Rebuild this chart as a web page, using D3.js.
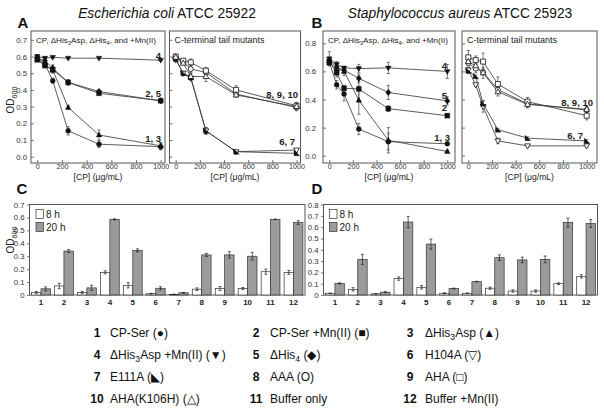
<!DOCTYPE html>
<html><head><meta charset="utf-8">
<script src="https://cdn.jsdelivr.net/npm/d3@7"></script>
<style>body{margin:0;background:#fff}svg{display:block}text{font-family:"Liberation Sans",Arial,sans-serif}</style>
</head><body><svg id="c" width="604" height="411"></svg>
<script>
// ---------- DATA ----------
const conc = [0, 62.5, 125, 250, 500, 1000];
const xTickVals = [0, 200, 400, 600, 800, 1000];
const yTicksA = [0, 0.1, 0.2, 0.3, 0.4, 0.5, 0.6, 0.7];
const yTicksB = [0, 0.2, 0.4, 0.6, 0.8];
const yTicksC = [0, 0.1, 0.2, 0.3, 0.4, 0.5, 0.6, 0.7];
const yTicksD = [0, 0.1, 0.2, 0.3, 0.4, 0.5, 0.6, 0.7, 0.8];

// E. coli, left panel (series 1-5)
const ecS1 = [0.595, 0.555, 0.455, 0.155, 0.075, 0.06],  ecS1e = [0.015, 0.01, 0.015, 0.025, 0.02, 0.02];
const ecS2 = [0.58, 0.545, 0.52, 0.445, 0.38, 0.335],    ecS2e = [0.01, 0.01, 0.01, 0.015, 0.01, 0.01];
const ecS3 = [0.585, 0.55, 0.52, 0.295, 0.13, 0.065],    ecS3e = [0.01, 0.01, 0.02, 0.01, 0.03, 0.02];
const ecS4 = [0.6, 0.59, 0.595, 0.59, 0.59, 0.578],      ecS4e = [0.01, 0.01, 0.005, 0.005, 0.005, 0.005];
const ecS5 = [0.59, 0.575, 0.53, 0.445, 0.39, 0.335],    ecS5e = [0.02, 0.02, 0.02, 0.01, 0.01, 0.01];
// E. coli, right panel (series 6-10)
const ecS6 = [0.58, 0.50, 0.47, 0.155, 0.03, 0.04],      ecS6e = [0.01, 0.01, 0.01, 0.02, 0.005, 0.005];
const ecS7 = [0.585, 0.50, 0.475, 0.155, 0.03, 0.02],    ecS7e = [0.01, 0.01, 0.01, 0.02, 0.005, 0.005];
const ecS8 = [0.6, 0.565, 0.525, 0.505, 0.375, 0.295],   ecS8e = [0.01, 0.01, 0.02, 0.02, 0.01, 0.02];
const ecS9 = [0.6, 0.575, 0.565, 0.515, 0.4, 0.305],     ecS9e = [0.01, 0.01, 0.02, 0.02, 0.025, 0.02];
const ecS10 = [0.595, 0.56, 0.48, 0.48, 0.37, 0.30],     ecS10e = [0.01, 0.01, 0.02, 0.03, 0.015, 0.02];

// S. aureus, left panel
const saS1 = [0.665, 0.505, 0.44, 0.19, 0.10, 0.085],    saS1e = [0.02, 0.03, 0.05, 0.04, 0.06, 0.01];
const saS2 = [0.67, 0.59, 0.48, 0.475, 0.335, 0.285],    saS2e = [0.02, 0.03, 0.02, 0.09, 0.02, 0.01];
const saS3 = [0.66, 0.62, 0.60, 0.395, 0.11, 0.03],      saS3e = [0.02, 0.02, 0.03, 0.1, 0.09, 0.01];
const saS4 = [0.69, 0.65, 0.625, 0.62, 0.625, 0.60],     saS4e = [0.05, 0.02, 0.01, 0.03, 0.04, 0.05];
const saS5 = [0.68, 0.63, 0.61, 0.55, 0.45, 0.39],       saS5e = [0.02, 0.03, 0.02, 0.03, 0.05, 0.03];
// S. aureus, right panel
const saS6 = [0.61, 0.505, 0.35, 0.105, 0.07, 0.07],     saS6e = [0.02, 0.01, 0.04, 0.02, 0.01, 0.01];
const saS7 = [0.605, 0.565, 0.37, 0.185, 0.125, 0.105],  saS7e = [0.02, 0.01, 0.02, 0.01, 0.01, 0.01];
const saS8 = [0.66, 0.62, 0.595, 0.47, 0.37, 0.325],     saS8e = [0.02, 0.03, 0.02, 0.02, 0.03, 0.02];
const saS9 = [0.70, 0.68, 0.67, 0.51, 0.385, 0.285],     saS9e = [0.05, 0.03, 0.06, 0.05, 0.03, 0.03];
const saS10 = [0.67, 0.64, 0.59, 0.455, 0.365, 0.33],    saS10e = [0.02, 0.02, 0.04, 0.03, 0.02, 0.02];

// Bar panels: groups 1-12
const groups = ["1","2","3","4","5","6","7","8","9","10","11","12"];
const ec8h   = [0.02, 0.07, 0.02, 0.175, 0.075, 0.01, 0.005, 0.045, 0.05, 0.05, 0.18, 0.175];
const ec8hE  = [0.008, 0.02, 0.008, 0.012, 0.02, 0.003, 0.002, 0.01, 0.015, 0.008, 0.02, 0.015];
const ec20h  = [0.048, 0.34, 0.055, 0.585, 0.345, 0.052, 0.017, 0.31, 0.31, 0.30, 0.585, 0.56];
const ec20hE = [0.015, 0.012, 0.02, 0.005, 0.012, 0.012, 0.003, 0.012, 0.025, 0.03, 0.003, 0.015];
const sa8h   = [0.015, 0.05, 0.01, 0.145, 0.068, 0.015, 0.015, 0.06, 0.035, 0.035, 0.10, 0.165];
const sa8hE  = [0.003, 0.015, 0.003, 0.015, 0.015, 0.005, 0.003, 0.01, 0.01, 0.01, 0.008, 0.015];
const sa20h  = [0.103, 0.315, 0.025, 0.645, 0.45, 0.057, 0.118, 0.33, 0.31, 0.315, 0.64, 0.632];
const sa20hE = [0.005, 0.045, 0.005, 0.05, 0.045, 0.004, 0.003, 0.025, 0.025, 0.03, 0.04, 0.035];

// Legend
const legendNums = ["1","2","3","4","5","6","7","8","9","10","11","12"];
const legendLabels = ["CP-Ser (●)", "CP-Ser +Mn(II) (■)", "ΔHis_3Asp (▲)",
  "ΔHis_3Asp +Mn(II) (▼)", "ΔHis_4 (◆)", "H104A (▽)",
  "E111A (◣)", "AAA (O)", "AHA (□)",
  "AHA(K106H) (△)", "Buffer only", "Buffer +Mn(II)"];
const shapes = {1:"circle",2:"square",3:"up",4:"down",5:"diamond",6:"downOpen",7:"corner",8:"circleOpen",9:"squareOpen",10:"upOpen"};

// ---------- DRAWING ----------
const svg = d3.select("#c");
const FR = "#555";

function addRich(textSel, str, fs){
  const parts = str.split(/(_[0-9]+|\*[^*]+\*)/).filter(s => s.length);
  let shifted = false;
  parts.forEach(p => {
    const t = textSel.append("tspan");
    if (p[0] === "_") { t.text(p.slice(1)).attr("font-size", fs*0.72).attr("dy", fs*0.3); shifted = true; }
    else {
      if (p[0] === "*") { t.attr("font-style", "italic"); p = p.slice(1, -1); }
      t.text(p);
      if (shifted) { t.attr("dy", -fs*0.3); shifted = false; }
    }
  });
}

function markerPath(shape, r){
  const s = shape.replace("Open", "");
  switch (s) {
    case "circle": return d3.symbol(d3.symbolCircle, Math.PI*r*r)();
    case "square": return `M${-r},${-r}H${r}V${r}H${-r}Z`;
    case "up": return `M0,${-r*1.25}L${r*1.15},${r*0.8}L${-r*1.15},${r*0.8}Z`;
    case "down": return `M0,${r*1.25}L${r*1.15},${-r*0.8}L${-r*1.15},${-r*0.8}Z`;
    case "diamond": return `M0,${-r*1.35}L${r*1.05},0L0,${r*1.35}L${-r*1.05},0Z`;
    case "corner": return `M${-r},${-r*1.2}L${-r},${r}L${r*1.3},${r}Z`;
  }
}

function styleAxis(g, fs){
  g.select(".domain").remove();
  g.selectAll(".tick line").attr("stroke", FR).attr("stroke-width", 0.8);
  g.selectAll(".tick text").attr("font-size", fs).attr("fill", "#333")
    .attr("font-family", '"Liberation Sans",Arial,sans-serif');
}

function linePanel(o){
  const g = svg.append("g");
  const x = d3.scaleLinear().domain([0, 1000]).range(o.xr);
  const y = d3.scaleLinear().domain(o.yd).range(o.yr);
  g.append("rect").attr("x", o.fx[0]).attr("y", o.fy[0])
    .attr("width", o.fx[1]-o.fx[0]).attr("height", o.fy[1]-o.fy[0])
    .attr("fill", "none").attr("stroke", FR).attr("stroke-width", 1);
  const xa = g.append("g").attr("transform", `translate(0,${o.fy[1]})`)
    .call(d3.axisBottom(x).tickValues(xTickVals).tickFormat(d3.format("d")).tickSizeInner(-3).tickSizeOuter(0).tickPadding(1));
  styleAxis(xa, 7.2);
  const ya = g.append("g").attr("transform", `translate(${o.fx[0]},0)`)
    .call(d3.axisLeft(y).tickValues(o.yt).tickFormat(o.ylab ? d3.format(".1f") : () => "").tickSizeInner(-3).tickSizeOuter(0).tickPadding(o.ypad));
  styleAxis(ya, 7.8);
  // x label
  g.append("text").attr("x", (o.fx[0]+o.fx[1])/2).attr("y", 180).attr("text-anchor", "middle")
    .attr("font-size", 8.6).attr("fill", "#222").text("[CP] (μg/mL)");
  // inner title
  const tt = g.append("text").attr("x", o.fx[0]+5).attr("y", 42.5).attr("font-size", o.tfs).attr("fill", "#222");
  addRich(tt, o.title, o.tfs);
  const line = d3.line().x((d, i) => x(conc[i])).y(d => y(d));
  o.series.forEach(s => {
    g.append("path").attr("d", line(s.v)).attr("fill", "none").attr("stroke", "#333").attr("stroke-width", 0.8);
  });
  o.series.forEach(s => {
    s.v.forEach((v, i) => {
      const cx = x(conc[i]);
      g.append("line").attr("x1", cx).attr("x2", cx).attr("y1", y(v - s.e[i])).attr("y2", y(v + s.e[i])).attr("stroke", "#444").attr("stroke-width", 0.7);
      [v - s.e[i], v + s.e[i]].forEach(w => g.append("line").attr("x1", cx-1.6).attr("x2", cx+1.6).attr("y1", y(w)).attr("y2", y(w)).attr("stroke", "#444").attr("stroke-width", 0.7));
    });
  });
  o.series.forEach(s => {
    const sh = shapes[s.id], open = sh.endsWith("Open");
    s.v.forEach((v, i) => {
      g.append("path").attr("d", markerPath(sh, 2.5))
        .attr("transform", `translate(${x(conc[i])},${y(v)})`)
        .attr("fill", open ? "#fff" : "#111").attr("stroke", "#111").attr("stroke-width", open ? 0.8 : 0.3);
    });
  });
  o.ann.forEach(a => g.append("text").attr("x", a[1]).attr("y", a[2]).attr("text-anchor", "end")
    .attr("font-size", 9.5).attr("font-weight", "bold").attr("fill", "#222").text(a[0]));
}

// Panel A
const yA = {yd: [0, 0.7], yr: [156.7, 39.8], yt: yTicksA, fy: [31, 163]};
linePanel(Object.assign({}, yA, {fx: [31, 165], xr: [37.3, 160.7], ylab: true, ypad: 4, tfs: 8.1,
  title: "CP, ΔHis_3Asp, ΔHis_4, and +Mn(II)",
  series: [{id:1,v:ecS1,e:ecS1e},{id:2,v:ecS2,e:ecS2e},{id:3,v:ecS3,e:ecS3e},{id:4,v:ecS4,e:ecS4e},{id:5,v:ecS5,e:ecS5e}],
  ann: [["4", 161, 58.5], ["2, 5", 161, 97], ["1, 3", 161, 141.5]]}));
linePanel(Object.assign({}, yA, {fx: [169.5, 300.5], xr: [175.7, 296.5], ylab: false, ypad: 4, tfs: 9,
  title: "C-terminal tail mutants",
  series: [{id:6,v:ecS6,e:ecS6e},{id:7,v:ecS7,e:ecS7e},{id:8,v:ecS8,e:ecS8e},{id:9,v:ecS9,e:ecS9e},{id:10,v:ecS10,e:ecS10e}],
  ann: [["8, 9, 10", 298, 97.5], ["6, 7", 295, 144.5]]}));
// Panel B
const yB = {yd: [0, 0.8], yr: [155.7, 43.3], yt: yTicksB, fy: [31, 163]};
linePanel(Object.assign({}, yB, {fx: [323, 455], xr: [329.3, 447.3], ylab: true, ypad: 7, tfs: 8.1,
  title: "CP, ΔHis_3Asp, ΔHis_4, and +Mn(II)",
  series: [{id:1,v:saS1,e:saS1e},{id:2,v:saS2,e:saS2e},{id:3,v:saS3,e:saS3e},{id:4,v:saS4,e:saS4e},{id:5,v:saS5,e:saS5e}],
  ann: [["4", 447, 68.5], ["5", 447, 98.5], ["2", 447, 110.5], ["1, 3", 450, 140.5]]}));
linePanel(Object.assign({}, yB, {fx: [462, 597], xr: [468.3, 586.7], ylab: false, ypad: 4, tfs: 9,
  title: "C-terminal tail mutants",
  series: [{id:6,v:saS6,e:saS6e},{id:7,v:saS7,e:saS7e},{id:8,v:saS8,e:saS8e},{id:9,v:saS9,e:saS9e},{id:10,v:saS10,e:saS10e}],
  ann: [["8, 9, 10", 593, 105.5], ["6, 7", 583, 138.5]]}));

// Bar panels
function barPanel(o){
  const g = svg.append("g");
  const x = d3.scaleBand().domain(groups).range(o.fx).paddingInner(0);
  const y = d3.scaleLinear().domain(o.yd).range([295, 204.5]);
  const bw = 9.4;
  g.append("rect").attr("x", o.fx[0]).attr("y", 204.5).attr("width", o.fx[1]-o.fx[0]).attr("height", 295-204.5)
    .attr("fill", "none").attr("stroke", FR).attr("stroke-width", 1);
  const series = [{v: o.a, e: o.ae, fill: "#fff", off: -bw}, {v: o.b, e: o.be, fill: "#9b9b9b", off: 0}];
  series.forEach(s => {
    groups.forEach((gname, i) => {
      const c = x(gname) + x.bandwidth()/2;
      g.append("rect").attr("x", c + s.off).attr("y", y(s.v[i])).attr("width", bw).attr("height", y(0) - y(s.v[i]))
        .attr("fill", s.fill).attr("stroke", "#333").attr("stroke-width", 0.7);
      const cx = c + s.off + bw/2;
      g.append("line").attr("x1", cx).attr("x2", cx).attr("y1", y(s.v[i]-s.e[i])).attr("y2", y(s.v[i]+s.e[i])).attr("stroke", "#222").attr("stroke-width", 0.7);
      [s.v[i]-s.e[i], s.v[i]+s.e[i]].forEach(w => g.append("line").attr("x1", cx-1.5).attr("x2", cx+1.5).attr("y1", y(w)).attr("y2", y(w)).attr("stroke", "#222").attr("stroke-width", 0.7));
    });
  });
  const xa = g.append("g").attr("transform", "translate(0,295)")
    .call(d3.axisBottom(x).tickSize(0).tickPadding(4.5));
  styleAxis(xa, 8);
  xa.selectAll(".tick text").attr("font-weight", "bold").attr("fill", "#222");
  const ya = g.append("g").attr("transform", `translate(${o.fx[0]},0)`)
    .call(d3.axisLeft(y).tickValues(o.yt).tickFormat(d => d === 0 ? "0" : d3.format(".1f")(d)).tickSizeInner(2.5).tickSizeOuter(0).tickPadding(2.5));
  styleAxis(ya, 7.8);
  // legend
  [["8 h", "#fff", 209.5], ["20 h", "#9b9b9b", 222.5]].forEach(l => {
    g.append("rect").attr("x", o.lx).attr("y", l[2]).attr("width", 7.5).attr("height", 9)
      .attr("fill", l[1]).attr("stroke", "#333").attr("stroke-width", 0.7);
    g.append("text").attr("x", o.lx + 10).attr("y", l[2] + 8.3).attr("font-size", 10).attr("fill", "#222").text(l[0]);
  });
}
barPanel({fx: [29.5, 305], yd: [0, 0.7], yt: yTicksC, a: ec8h, ae: ec8hE, b: ec20h, be: ec20hE, lx: 36});
barPanel({fx: [323.5, 597.5], yd: [0, 0.8], yt: yTicksD, a: sa8h, ae: sa8hE, b: sa20h, be: sa20hE, lx: 329.5});

// Y labels (OD600)
[[14, 100], [14, 240]].forEach(p => {
  const t = svg.append("text").attr("transform", `translate(${p[0]},${p[1]}) rotate(-90)`)
    .attr("text-anchor", "middle").attr("font-size", 10).attr("fill", "#222");
  addRich(t, "OD_600", 10);
});

// Panel letters
[["A", 17.5, 27.5], ["B", 311.5, 27.5], ["C", 16.5, 193.5], ["D", 311.5, 193.5]].forEach(l =>
  svg.append("text").attr("x", l[1]).attr("y", l[2]).attr("font-size", 15).attr("font-weight", "bold").attr("fill", "#111").text(l[0]));

// Titles
[["*Escherichia coli* ATCC 25922", 167], ["*Staphylococcus aureus* ATCC 25923", 460]].forEach(t => {
  const tx = svg.append("text").attr("x", t[1]).attr("y", 17.5).attr("text-anchor", "middle").attr("font-size", 13.8).attr("fill", "#111");
  addRich(tx, t[0], 13.8);
});

// Bottom legend
const colNum = [97, 256, 410], colTxt = [110, 270, 425], rowY = [336.5, 358.5, 380.5, 402.5];
legendLabels.forEach((lab, i) => {
  const c = i % 3, r = Math.floor(i / 3);
  svg.append("text").attr("x", colNum[c]).attr("y", rowY[r]).attr("text-anchor", "middle")
    .attr("font-size", 12).attr("font-weight", "bold").attr("fill", "#111").text(legendNums[i]);
  const t = svg.append("text").attr("x", colTxt[c]).attr("y", rowY[r]).attr("font-size", 12).attr("fill", "#111");
  addRich(t, lab, 12);
});
</script></body></html>
